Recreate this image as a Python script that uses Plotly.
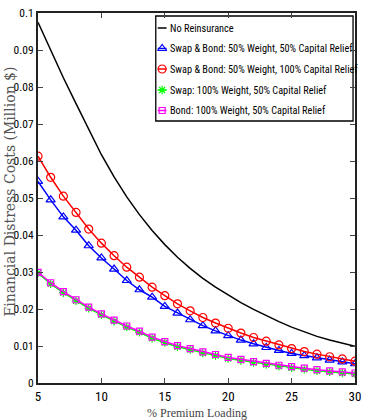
import plotly.graph_objects as go

# ---------------- data ----------------
loading = list(range(5, 31))
no_reinsurance = [0.0975, 0.0898, 0.0825, 0.0755, 0.0685, 0.0617, 0.0557, 0.0503, 0.0455,
                  0.0412, 0.0374, 0.0340, 0.0310, 0.0283, 0.0259, 0.0237, 0.0217, 0.0199,
                  0.0182, 0.0166, 0.0151, 0.0138, 0.0126, 0.0116, 0.0107, 0.0099]
sb_50w_50r = [0.0545, 0.0495, 0.0449, 0.0413, 0.0371, 0.0338, 0.0308, 0.0277, 0.0252,
              0.0232, 0.0207, 0.0189, 0.0171, 0.0155, 0.0141, 0.0128, 0.0116, 0.0106,
              0.0096, 0.0088, 0.0080, 0.0074, 0.0068, 0.0062, 0.0057, 0.0052]
sb_50w_100r = [0.0613, 0.0556, 0.0505, 0.0461, 0.0416, 0.0378, 0.0344, 0.0313, 0.0286,
               0.0259, 0.0236, 0.0214, 0.0195, 0.0177, 0.0162, 0.0148, 0.0135, 0.0123,
               0.0113, 0.0103, 0.0093, 0.0085, 0.0078, 0.0071, 0.0065, 0.0059]
swap_100w_50r = [0.0297, 0.0268, 0.0244, 0.0222, 0.0202, 0.0184, 0.0167, 0.0151, 0.0137,
                 0.0121, 0.0109, 0.0098, 0.0090, 0.0081, 0.0074, 0.0066, 0.0061, 0.0055,
                 0.0050, 0.0045, 0.0041, 0.0037, 0.0033, 0.0030, 0.0027, 0.0024]
bond_100w_50r = [0.0299, 0.0271, 0.0247, 0.0225, 0.0205, 0.0187, 0.0170, 0.0154, 0.0140,
                 0.0124, 0.0112, 0.0101, 0.0093, 0.0084, 0.0077, 0.0069, 0.0064, 0.0058,
                 0.0053, 0.0048, 0.0044, 0.0040, 0.0036, 0.0033, 0.0030, 0.0027]

series_names = ["No Reinsurance",
                "Swap & Bond: 50% Weight, 50% Capital Relief",
                "Swap & Bond: 50% Weight, 100% Capital Relief",
                "Swap: 100% Weight, 50% Capital Relief",
                "Bond: 100% Weight, 50% Capital Relief"]
x_ticks = [5, 10, 15, 20, 25, 30]
y_ticks = [0, 0.01, 0.02, 0.03, 0.04, 0.05, 0.06, 0.07, 0.08, 0.09, 0.1]
y_tick_labels = ["0", "0.01", "0.02", "0.03", "0.04", "0.05", "0.06", "0.07", "0.08", "0.09", "0.1"]

# ---------------- styles ----------------
W, H = 366, 420
ML, MR, MT, MB = 38, 5, 13, 37
styles = [
    dict(color="#000000", symbol=None, size=0),
    dict(color="#0000ff", symbol="triangle-up-open", size=8),
    dict(color="#ff0000", symbol="circle-open", size=8),
    dict(color="#00ff00", symbol="asterisk-open", size=7),
    dict(color="#ff00ff", symbol="square-open", size=6),
]
series_values = [no_reinsurance, sb_50w_50r, sb_50w_100r, swap_100w_50r, bond_100w_50r]

narrow = "Roboto Condensed, Liberation Sans Narrow, DejaVu Sans Condensed, sans-serif"

fig = go.Figure()
for name, vals, st in zip(series_names, series_values, styles):
    if st["symbol"] is None:
        fig.add_trace(go.Scatter(x=loading, y=vals, mode="lines", name=name,
                                 line=dict(color=st["color"], width=1.5), showlegend=False))
    else:
        fig.add_trace(go.Scatter(x=loading, y=vals, mode="lines+markers", name=name,
                                 line=dict(color=st["color"], width=1.5),
                                 marker=dict(symbol=st["symbol"], size=st["size"],
                                             color=st["color"], line=dict(width=1.2, color=st["color"])),
                                 showlegend=False))

# ---------------- manual legend (pixel layout on overlay axes) ----------------
leg_x0, leg_x1, leg_y0, leg_y1 = 158, 359, 16, 121
row_y = [28, 48.5, 69, 90, 110.5]
sample_x0, sample_x1 = 160, 169
text_x = 170

def px_to_paper_x(px):
    return (px - ML) / (W - ML - MR)

def px_to_paper_y(py):
    return (H - MB - py) / (H - MT - MB)

fig.add_shape(type="rect", xref="paper", yref="paper",
              x0=px_to_paper_x(leg_x0), x1=px_to_paper_x(leg_x1),
              y0=px_to_paper_y(leg_y1), y1=px_to_paper_y(leg_y0),
              line=dict(color="black", width=1.3), fillcolor="white", layer="below")

for name, st, ry in zip(series_names, styles, row_y):
    fig.add_trace(go.Scatter(x=[sample_x0, sample_x1], y=[ry, ry], mode="lines",
                             line=dict(color=st["color"], width=1.5),
                             xaxis="x2", yaxis="y2", showlegend=False, hoverinfo="skip"))
    if st["symbol"] is not None:
        fig.add_trace(go.Scatter(x=[(sample_x0 + sample_x1) / 2], y=[ry], mode="markers",
                                 marker=dict(symbol=st["symbol"], size=st["size"], color=st["color"],
                                             line=dict(width=1.2, color=st["color"])),
                                 xaxis="x2", yaxis="y2", showlegend=False, hoverinfo="skip"))
    fig.add_annotation(x=px_to_paper_x(text_x), y=px_to_paper_y(ry), xref="paper", yref="paper",
                       text=name, showarrow=False, xanchor="left", yanchor="middle",
                       font=dict(family=narrow, size=10.3, color="black"))

# axis titles
fig.add_annotation(x=px_to_paper_x(9), y=px_to_paper_y(192), xref="paper", yref="paper",
                   text="Financial Distress Costs (Million $)", textangle=-90, showarrow=False,
                   xanchor="center", yanchor="middle",
                   font=dict(family="DejaVu Serif, serif", size=14, color="#555"))
fig.add_annotation(x=px_to_paper_x(200), y=px_to_paper_y(413), xref="paper", yref="paper",
                   text="% Premium Loading", showarrow=False, xanchor="center", yanchor="middle",
                   font=dict(family="Liberation Serif, serif", size=12, color="#444"))

fig.update_layout(
    width=W, height=H,
    margin=dict(l=ML, r=MR, t=MT, b=MB, pad=0),
    paper_bgcolor="white", plot_bgcolor="white",
    font=dict(family=narrow, size=12, color="black"),
    xaxis=dict(range=[5, 30], tickvals=x_ticks, ticks="inside", ticklen=5, tickwidth=1,
               showline=True, linecolor="#222", linewidth=2, mirror="ticks",
               showgrid=False, zeroline=False, tickfont=dict(size=13),
               ticklabeloverflow="allow"),
    yaxis=dict(range=[0, 0.1], tickvals=y_ticks, ticktext=y_tick_labels, ticks="inside",
               ticklen=5, tickwidth=1, showline=True, linecolor="#222", linewidth=2,
               mirror="ticks", showgrid=False, zeroline=False, tickfont=dict(size=11.5),
               ticklabeloverflow="allow"),
    xaxis2=dict(overlaying="x", range=[ML, W - MR], visible=False, fixedrange=True),
    yaxis2=dict(overlaying="y", range=[H - MB, MT], visible=False, fixedrange=True),
    showlegend=False,
)

fig.write_html("out.html")
